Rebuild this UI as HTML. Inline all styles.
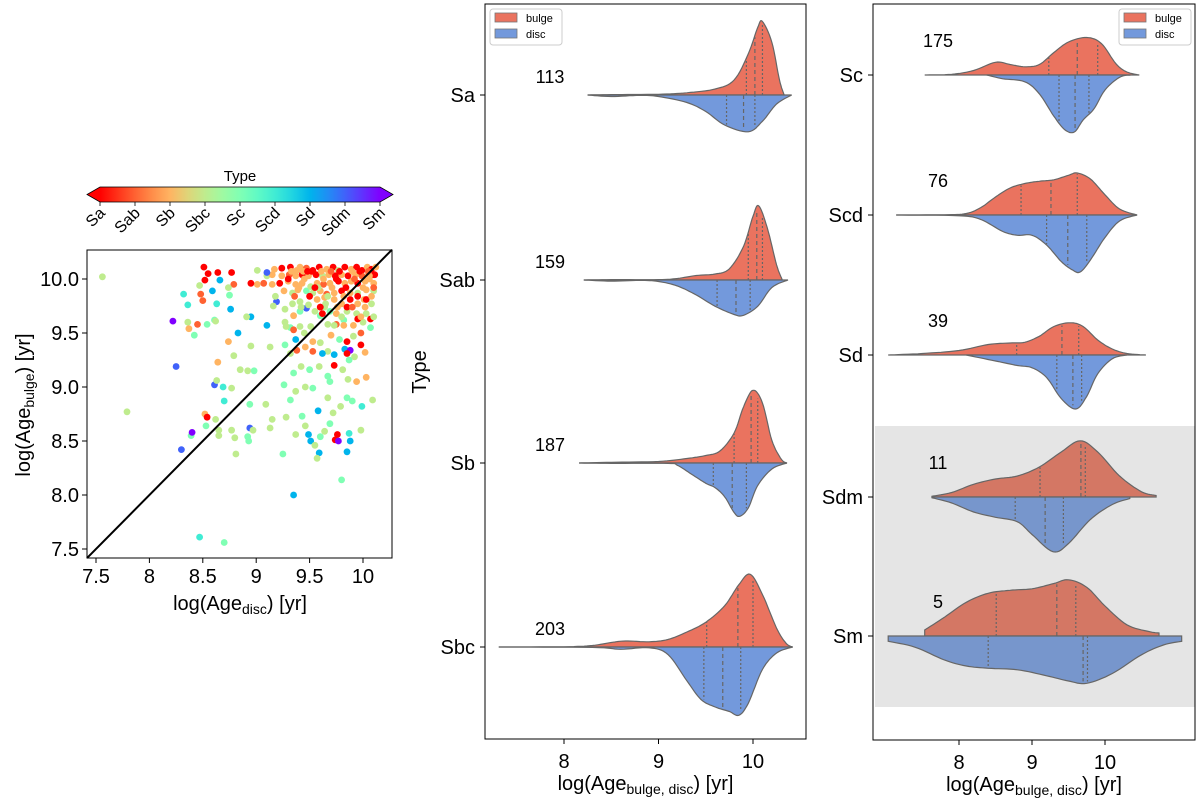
<!DOCTYPE html>
<html><head><meta charset="utf-8">
<style>
html,body{margin:0;padding:0;background:#fff;}
svg{display:block;font-family:"Liberation Sans","DejaVu Sans",sans-serif;}
</style></head>
<body>
<svg id="fig" width="1200" height="798" viewBox="0 0 1200 798" xmlns="http://www.w3.org/2000/svg">
<defs><linearGradient id="cbgrad" x1="0" x2="1" y1="0" y2="0"></linearGradient></defs>
<g id="scatterG"></g>
<g id="midG"></g>
<g id="rightG"></g>
</svg>
<script>
// ===== Scatter data =====
const scatX=[7.56,7.79,8.51,8.55,8.64,8.77,8.52,8.47,8.66,8.79,8.59,8.48,8.5,8.32,8.36,8.63,8.74,8.75,8.76,8.22,8.36,8.37,8.45,8.54,8.61,8.62,8.42,8.25,8.61,8.69,8.77,8.7,8.74,8.83,8.79,8.64,8.63,8.85,8.92,8.98,8.95,8.95,8.91,9.1,9.13,8.52,8.54,8.62,8.53,8.65,8.39,8.4,8.3,8.65,8.77,8.8,8.81,8.92,8.93,8.94,8.97,8.94,8.47,8.7,9.35,9.8,9.09,9.15,9.13,9.25,9.28,9.32,9.26,9.37,9.43,9.46,9.49,9.51,9.59,9.57,9.55,9.6,9.64,9.69,9.74,9.76,9.77,9.85,9.87,9.88,9.98,10.09,9.99,9.9,9.85,9.79,9.72,9.67,9.58,9.53,9.46,9.37,9.35,9.42,9.5,9.59,9.67,9.69,9.73,9.81,9.86,9.94,10.03,10.02,9.92,9.87,9.83,9.88,9.98,9.73,9.67,9.62,9.53,9.46,9.38,9.32,9.27,9.37,9.45,9.53,9.6,9.7,9.78,9.85,9.91,9.98,10.07,10.07,10.0,9.91,9.82,9.75,9.67,9.6,9.51,9.41,9.32,9.27,9.35,9.41,9.47,9.55,9.62,9.69,9.75,9.85,9.94,10.03,10.08,10.01,9.95,9.88,9.8,9.73,9.65,9.57,9.49,9.41,9.34,9.27,9.19,9.16,9.18,9.26,9.34,9.39,9.47,9.53,9.6,9.66,9.73,9.8,9.88,9.95,10.03,10.1,10.1,10.02,9.95,9.89,9.83,9.77,9.69,9.63,9.57,9.51,9.43,9.37,9.3,9.22,9.15,9.07,9.01,8.95,9.1,9.15,9.01,9.1,9.17,9.24,9.32,9.38,9.41,9.47,9.53,9.59,9.66,9.72,9.77,9.83,9.89,9.94,9.99,10.04,10.08,10.12,10.11,10.05,9.99,9.93,9.86,9.8,9.74,9.68,9.62,9.56,9.49,9.43,9.37,9.31,9.24,10.1,10.06,10.03,9.95,9.85,9.82,9.73,9.85,9.6,9.64,
 9.28,9.35,9.44,9.52,9.61,9.7,9.78,9.9,9.97,10.05,9.33,9.48,9.63,9.75,9.92,10.06,9.3,9.45,9.58,9.71,9.84,10.0,10.1,9.4,9.55,9.67,9.82,9.95,10.08,9.36,9.5,9.64,9.76,9.9,10.02,9.42,9.6,9.8,9.98,10.1];
const scatY=[10.02,8.77,10.11,10.05,10.06,10.06,9.99,9.94,9.99,9.95,9.89,9.86,9.8,9.86,9.76,9.77,9.92,9.85,9.72,9.61,9.6,9.54,9.58,9.58,9.62,9.61,9.48,9.19,9.02,9.0,8.99,8.87,9.42,9.5,9.29,9.23,9.06,9.16,9.15,9.15,9.38,9.65,9.65,9.57,9.37,8.75,8.72,8.7,8.64,8.6,8.55,8.58,8.42,8.55,8.6,8.53,8.38,8.54,8.5,8.62,8.6,8.84,7.61,7.56,8.0,8.14,8.84,8.7,8.62,8.38,8.72,8.88,9.02,8.56,8.73,8.64,8.56,8.5,8.39,8.34,8.46,8.54,8.59,8.66,8.51,8.56,8.5,8.4,8.57,8.5,8.6,8.88,8.82,8.87,8.9,8.82,8.76,8.9,8.78,8.99,9.0,8.96,9.13,9.19,9.16,9.19,9.1,9.05,9.2,9.16,9.07,9.05,9.09,9.32,9.28,9.25,9.35,9.34,9.39,9.3,9.33,9.31,9.33,9.37,9.34,9.31,9.39,9.44,9.5,9.42,9.41,9.48,9.44,9.42,9.47,9.5,9.55,9.63,9.6,9.57,9.62,9.58,9.58,9.66,9.56,9.56,9.55,9.6,9.66,9.7,9.73,9.7,9.68,9.7,9.68,9.7,9.68,9.68,9.77,9.81,9.77,9.81,9.77,9.81,9.77,9.81,9.76,9.79,9.77,9.72,9.79,9.75,9.84,9.89,9.87,9.9,9.89,9.87,9.89,9.86,9.87,9.89,9.87,9.87,9.9,9.89,9.96,9.98,9.96,9.98,9.96,9.98,9.96,9.95,9.96,9.93,9.96,9.95,9.98,9.96,9.95,9.96,9.95,9.96,10.03,10.04,10.08,10.06,10.09,10.1,10.11,10.08,10.11,10.1,10.08,10.11,10.09,10.11,10.08,10.11,10.09,10.11,10.08,10.11,10.09,10.11,10.04,10.04,10.03,10.04,10.03,10.04,10.03,10.04,10.03,10.04,10.03,10.04,10.03,10.04,10.03,10.04,10.03,9.81,9.63,9.31,9.57,9.57,9.74,9.74,9.83,9.56,9.53,
 10.07,10.07,10.07,10.07,10.07,10.07,10.07,10.07,10.07,10.07,10.0,10.0,10.0,10.0,10.0,10.0,9.92,9.92,9.92,9.92,9.92,9.92,9.92,9.84,9.84,9.84,9.84,9.84,9.84,9.74,9.74,9.74,9.74,9.74,9.74,9.65,9.65,9.65,9.65,9.65];
const scatType=[3,3,0,0,0,0,0,3,6,1,6,1,1,5,5,5,3,4,6,8,3,2,1,4,4,3,4,7,7,5,3,5,2,6,3,2,3,3,3,4,3,6,3,6,3,2,0,3,4,3,4,8,7,3,3,3,3,4,4,7,3,4,5,4,6,4,3,3,3,4,3,4,4,3,4,3,6,6,6,3,3,4,3,4,0,0,8,6,5,6,3,3,5,4,4,3,3,3,6,4,3,3,4,3,4,3,4,4,0,3,3,2,2,2,3,4,6,8,0,6,3,6,1,2,1,3,4,6,3,2,3,2,4,0,3,1,4,0,3,2,4,1,3,4,3,3,4,3,2,4,7,3,0,4,2,3,3,3,3,2,2,0,2,2,3,2,3,3,3,3,7,3,3,2,3,2,4,3,2,1,2,0,2,3,2,3,2,2,0,2,2,0,2,1,2,3,2,2,2,0,2,1,2,0,3,2,3,7,2,0,0,2,2,1,0,0,2,0,3,0,2,0,0,2,0,2,0,2,1,2,0,2,0,2,3,0,2,0,2,1,2,0,2,0,0,0,2,3,0,0,2,3,1,
 2,0,2,1,0,2,0,1,2,0,2,0,1,2,0,2,3,2,0,2,1,2,0,3,2,0,2,1,0,3,2,1,2,3,0,3,2,3,2,0];
const typeNames=["Sa","Sab","Sb","Sbc","Sc","Scd","Sd","Sdm","Sm"];
const scatXTicks=[7.5,8,8.5,9,9.5,10];
const scatXTickLabels=["7.5","8","8.5","9","9.5","10"];
const scatYTicks=[7.5,8,8.5,9,9.5,10];
const scatYTickLabels=["7.5","8.0","8.5","9.0","9.5","10.0"];

// ===== Violin data (middle panel) =====
const midCats=["Sa","Sab","Sb","Sbc"];
const midCounts=["113","159","187","203"];
const midBulgeX=[
 [8.25,8.5,9.0,9.3,9.6,9.8,9.95,10.05,10.1,10.2,10.28,10.33],
 [8.21,8.5,9.0,9.2,9.4,9.6,9.75,9.9,10.0,10.06,10.15,10.25,10.31],
 [8.16,8.5,9.0,9.3,9.5,9.65,9.8,9.9,10.0,10.1,10.2,10.3,10.36],
 [7.31,8.0,8.3,8.5,8.65,8.9,9.1,9.3,9.5,9.7,9.85,9.97,10.1,10.25,10.35,10.42]];
const midBulgeD=[
 [0,0.005,0.01,0.03,0.08,0.2,0.55,0.9,0.98,0.7,0.2,0],
 [0,0.005,0.005,0.02,0.06,0.08,0.15,0.45,0.85,0.99,0.7,0.2,0],
 [0,0.01,0.02,0.06,0.1,0.16,0.4,0.75,0.97,0.8,0.3,0.05,0],
 [0,0.003,0.02,0.06,0.08,0.07,0.1,0.2,0.33,0.55,0.83,0.97,0.7,0.25,0.05,0]];
const midDiscX=[
 [8.25,8.5,8.8,9.0,9.3,9.5,9.7,9.95,10.1,10.25,10.41],
 [8.21,8.5,8.8,9.0,9.2,9.4,9.6,9.8,9.9,10.05,10.2,10.37],
 [8.16,8.5,9.1,9.2,9.35,9.5,9.6,9.7,9.8,9.86,9.95,10.05,10.2,10.36],
 [7.31,8.3,8.6,8.9,9.1,9.3,9.45,9.6,9.75,9.85,9.95,10.1,10.25,10.42]];
const midDiscD=[
 [0,0.02,0.005,0.02,0.1,0.22,0.4,0.49,0.35,0.12,0],
 [0,0.015,0.005,0.02,0.08,0.2,0.35,0.46,0.47,0.35,0.1,0],
 [0,0.005,0.005,0.03,0.15,0.27,0.33,0.45,0.66,0.71,0.6,0.3,0.08,0],
 [0,0.005,0.03,0.01,0.1,0.45,0.7,0.8,0.86,0.91,0.75,0.3,0.08,0]];
const midBulgeQ=[[9.93,10.02,10.1],[9.95,10.04,10.1],[9.8,9.98,10.05],[9.51,9.84,10.0]];
const midDiscQ=[[9.72,9.9,10.02],[9.62,9.82,9.97],[9.58,9.78,9.93],[9.48,9.68,9.87]];

// ===== Violin data (right panel) =====
const rightCats=["Sc","Scd","Sd","Sdm","Sm"];
const rightCounts=["175","76","39","11","5"];
const rightBulgeX=[
 [7.53,7.9,8.2,8.5,8.7,8.9,9.1,9.3,9.5,9.75,9.95,10.15,10.3,10.47],
 [7.14,7.8,8.1,8.3,8.5,8.7,8.9,9.1,9.3,9.5,9.62,9.8,10.0,10.2,10.44],
 [7.03,7.5,8.0,8.4,8.7,8.9,9.1,9.3,9.52,9.7,9.9,10.1,10.3,10.56],
 [7.63,7.9,8.2,8.5,8.8,9.1,9.4,9.66,9.9,10.2,10.5,10.7],
 [7.53,7.8,8.1,8.4,8.7,9.0,9.3,9.5,9.75,10.0,10.3,10.6,10.74]];
const rightBulgeD=[
 [0,0.01,0.06,0.17,0.14,0.11,0.14,0.3,0.44,0.5,0.42,0.15,0.04,0],
 [0,0.003,0.02,0.1,0.24,0.36,0.42,0.45,0.47,0.53,0.56,0.48,0.27,0.08,0],
 [0,0.02,0.06,0.14,0.16,0.17,0.25,0.38,0.43,0.38,0.2,0.08,0.02,0],
 [0.01,0.06,0.17,0.24,0.28,0.4,0.6,0.75,0.6,0.28,0.07,0.02],
 [0.08,0.25,0.45,0.57,0.61,0.63,0.7,0.75,0.65,0.4,0.15,0.06,0.04]];
const rightDiscX=[
 [8.38,8.6,8.9,9.1,9.3,9.45,9.58,9.7,9.85,10.0,10.2,10.35],
 [7.14,8.0,8.3,8.6,8.8,9.0,9.2,9.4,9.55,9.66,9.8,10.0,10.2,10.44],
 [8.1,8.5,8.8,9.0,9.2,9.4,9.6,9.75,9.9,10.1,10.3],
 [7.63,7.9,8.2,8.5,8.8,9.0,9.29,9.5,9.8,10.1,10.34],
 [7.03,7.4,7.8,8.1,8.4,8.8,9.2,9.5,9.75,10.1,10.5,10.8,11.05]];
const rightDiscD=[
 [0,0.05,0.09,0.25,0.55,0.73,0.76,0.6,0.45,0.2,0.03,0],
 [0,0.01,0.06,0.22,0.27,0.27,0.4,0.62,0.73,0.76,0.6,0.3,0.08,0],
 [0,0.08,0.14,0.17,0.3,0.58,0.72,0.55,0.25,0.05,0],
 [0.01,0.08,0.2,0.27,0.33,0.5,0.73,0.62,0.3,0.1,0.02],
 [0.07,0.15,0.32,0.4,0.43,0.45,0.53,0.6,0.63,0.5,0.25,0.12,0.07]];
const rightBulgeQ=[[9.23,9.62,9.9],[8.85,9.26,9.62],[8.79,9.41,9.64],[9.11,9.67,9.73],[8.51,9.34,9.6]];
const rightDiscQ=[[9.37,9.59,9.78],[9.2,9.49,9.75],[9.34,9.56,9.68],[8.77,9.18,9.43],[8.4,9.7,9.76]];
const violinXTicks=[8,9,10];

const NS="http://www.w3.org/2000/svg";
function mk(tag,attrs,parent,text){const e=document.createElementNS(NS,tag);for(const k in attrs)e.setAttribute(k,attrs[k]);if(text!==undefined)e.textContent=text;parent.appendChild(e);return e;}
function rainbow(t){const x=1-t/8;const r=Math.min(1,Math.abs(2*x-0.5));const g=Math.sin(Math.PI*x);const b=Math.cos(Math.PI/2*x);return `rgb(${Math.round(r*255)},${Math.round(Math.max(0,g)*255)},${Math.round(Math.max(0,b)*255)})`;}

// ===== Scatter panel =====
(function(){
 const g=document.getElementById('scatterG');
 const L=87,R=392,T=250,B=558;
 const sx=v=>96+(v-7.5)*106.8, sy=v=>549-(v-7.5)*108;
 const grad=document.getElementById('cbgrad');
 for(let i=0;i<=16;i++){mk('stop',{offset:(i/16),'stop-color':rainbow(i/2)},grad);}
 const cb=mk('g',{},g);
 
 
 mk('rect',{x:100,y:187,width:280,height:15,fill:'url(#cbgrad)'},cb);
 mk('polygon',{points:'100,187 87,194.5 100,202',fill:rainbow(0)},cb);
 mk('polygon',{points:'380,187 393,194.5 380,202',fill:rainbow(8)},cb);
 mk('polygon',{points:'100,187 380,187 393,194.5 380,202 100,202 87,194.5',fill:'none',stroke:'#000','stroke-width':0.8},cb);
 const ct=mk('text',{x:240,y:181,'text-anchor':'middle','font-size':15},cb,'Type');
 
 
 typeNames.forEach((n,i)=>{const x=100+i*35;
  mk('line',{x1:x,y1:202,x2:x,y2:206,stroke:'#000','stroke-width':0.8},cb);
  const t=mk('text',{x:x+6,y:214,'text-anchor':'end','font-size':16,transform:`rotate(-45 ${x+6} 214)`},cb,n);
  
  
 });
 const pg=mk('g',{},g);
 
 
 for(let i=0;i<scatX.length;i++){
  const c=mk('circle',{cx:sx(scatX[i]).toFixed(1),cy:sy(scatY[i]).toFixed(1),r:3.4,fill:rainbow(scatType[i])},pg);
  
  
 }
 const dl=mk('line',{x1:L,y1:sy(7.5+(L-96)/106.8),x2:R,y2:sy(7.5+(R-96)/106.8),stroke:'#000','stroke-width':2},g);
 
 
 const fr=mk('rect',{x:L,y:T,width:R-L,height:B-T,fill:'none',stroke:'#000','stroke-width':1},g);
 
 
 scatXTicks.forEach((v,i)=>{const x=sx(v);mk('line',{x1:x,y1:B,x2:x,y2:B+5,stroke:'#000'},g);
  const t=mk('text',{x:x,y:B+25,'text-anchor':'middle','font-size':20},g,scatXTickLabels[i]);
  
  });
 scatYTicks.forEach((v,i)=>{const y=sy(v);mk('line',{x1:L-5,y1:y,x2:L,y2:y,stroke:'#000'},g);
  const t=mk('text',{x:L-8,y:y+7,'text-anchor':'end','font-size':20},g,scatYTickLabels[i]);
  
  });
 const xt=mk('text',{x:240,y:610,'text-anchor':'middle','font-size':20},g);
 xt.innerHTML='log(Age<tspan font-size="14" dy="4">disc</tspan><tspan dy="-4">) [yr]</tspan>';
 
 
 const yt=mk('text',{x:0,y:0,'text-anchor':'middle','font-size':20,transform:'translate(30,405) rotate(-90)'},g);
 yt.innerHTML='log(Age<tspan font-size="14" dy="4">bulge</tspan><tspan dy="-4">) [yr]</tspan>';
 
 
})();

function smoothPts(pts){
 const out=[];
 for(let i=0;i<pts.length-1;i++){
  const p0=pts[Math.max(0,i-1)],p1=pts[i],p2=pts[i+1],p3=pts[Math.min(pts.length-1,i+2)];
  for(let s=0;s<8;s++){const t=s/8,t2=t*t,t3=t2*t;
   const f=(a,b,c,d)=>0.5*((2*b)+(-a+c)*t+(2*a-5*b+4*c-d)*t2+(-a+3*b-3*c+d)*t3);
   out.push([f(p0[0],p1[0],p2[0],p3[0]),f(p0[1],p1[1],p2[1],p3[1])]);}
 }
 out.push(pts[pts.length-1]);return out;
}
function interp(xs,ds,v){for(let i=0;i<xs.length-1;i++){if(v>=xs[i]&&v<=xs[i+1]){const f=(v-xs[i])/(xs[i+1]-xs[i]);return ds[i]+f*(ds[i+1]-ds[i]);}}return 0;}

function drawPanel(gid,cfg){
 const g=document.getElementById(gid);
 const {L,R,T,B,x0,ppu,centers,cats,counts,bx,bd,dx,dd,bq,dq,grayFrom,grayTo,legendX,countX,countDy}=cfg;
 const sx=v=>x0+(v-8)*ppu; const H=75;
 if(grayFrom!==undefined){const gr=mk('rect',{x:L+2,y:grayFrom,width:R-L-2,height:grayTo-grayFrom,fill:'#e5e5e5'},g);
  
  }
 cats.forEach((c,i)=>{
  const cy=centers[i]; const dim=(grayFrom!==undefined&&cy>grayFrom);
  const vg=mk('g',{},g);
  
  
  let pts=smoothPts(bx[i].map((v,k)=>[sx(v),cy-bd[i][k]*H]));
  let d='M'+sx(bx[i][0])+','+cy+' '+pts.map(p=>'L'+p[0].toFixed(1)+','+Math.min(cy,p[1]).toFixed(1)).join(' ')+' L'+sx(bx[i][bx[i].length-1])+','+cy+'Z';
  const bp=mk('path',{d:d,fill:dim?'#d47764':'#ea735f',stroke:'#666','stroke-width':1.2},vg);
  
  
  pts=smoothPts(dx[i].map((v,k)=>[sx(v),cy+dd[i][k]*H]));
  d='M'+sx(dx[i][0])+','+cy+' '+pts.map(p=>'L'+p[0].toFixed(1)+','+Math.max(cy,p[1]).toFixed(1)).join(' ')+' L'+sx(dx[i][dx[i].length-1])+','+cy+'Z';
  const dp=mk('path',{d:d,fill:dim?'#7796cc':'#7399dc',stroke:'#666','stroke-width':1.2},vg);
  
  
  bq[i].forEach((q,k)=>{const h=interp(bx[i],bd[i],q)*H*0.97;
   mk('line',{x1:sx(q),y1:cy,x2:sx(q),y2:cy-h,stroke:'#666','stroke-width':1.2,'stroke-dasharray':k==1?'4,3':'2,2'},vg);});
  dq[i].forEach((q,k)=>{const h=interp(dx[i],dd[i],q)*H*0.97;
   mk('line',{x1:sx(q),y1:cy,x2:sx(q),y2:cy+h,stroke:'#666','stroke-width':1.2,'stroke-dasharray':k==1?'4,3':'2,2'},vg);});
  const ct=mk('text',{x:countX,y:cy-countDy,'text-anchor':'middle','font-size':18},g,counts[i]);
  
  
  mk('line',{x1:L-5,y1:cy,x2:L,y2:cy,stroke:'#000'},g);
  const cl=mk('text',{x:L-10,y:cy+7,'text-anchor':'end','font-size':20},g,c);
  
  
 });
 const fr=mk('rect',{x:L,y:T,width:R-L,height:B-T,fill:'none',stroke:'#000','stroke-width':1},g);
 
 
 violinXTicks.forEach(v=>{const x=sx(v);mk('line',{x1:x,y1:B,x2:x,y2:B+5,stroke:'#000'},g);
  const t=mk('text',{x:x,y:B+29,'text-anchor':'middle','font-size':20},g,String(v));
  
  });
 const xt=mk('text',{x:(L+R)/2,y:B+51,'text-anchor':'middle','font-size':20},g);
 xt.innerHTML='log(Age<tspan font-size="14" dy="4">bulge, disc</tspan><tspan dy="-4">) [yr]</tspan>';
 
 
 const lg=mk('g',{},g);
 
 
 mk('rect',{x:legendX,y:9,width:72,height:36,rx:3,fill:'#fff',stroke:'#ccc','stroke-width':1},lg);
 mk('rect',{x:legendX+5,y:13,width:22,height:9,fill:'#ea735f',stroke:'#777','stroke-width':0.8},lg);
 mk('rect',{x:legendX+5,y:29,width:22,height:9,fill:'#7399dc',stroke:'#777','stroke-width':0.8},lg);
 const l1=mk('text',{x:legendX+36,y:22,'font-size':11},lg,'bulge');
 
 
 const l2=mk('text',{x:legendX+36,y:38,'font-size':11},lg,'disc');
 
 
}

drawPanel('midG',{L:485,R:806,T:4,B:739,x0:564,ppu:94.5,centers:[95,280,463,647],cats:midCats,counts:midCounts,
 bx:midBulgeX,bd:midBulgeD,dx:midDiscX,dd:midDiscD,bq:midBulgeQ,dq:midDiscQ,legendX:490,countX:550,countDy:12});
drawPanel('rightG',{L:873,R:1195,T:4,B:740,x0:959,ppu:73,centers:[75,215,355,497,636],cats:rightCats,counts:rightCounts,
 bx:rightBulgeX,bd:rightBulgeD,dx:rightDiscX,dd:rightDiscD,bq:rightBulgeQ,dq:rightDiscQ,grayFrom:426,grayTo:707,legendX:1119,countX:938,countDy:28});
(function(){const g=document.getElementById('midG');
 const t=mk('text',{x:0,y:0,'text-anchor':'middle','font-size':20,transform:'translate(426,372) rotate(-90)'},g,'Type');
 
 })();
</script>
</body></html>
